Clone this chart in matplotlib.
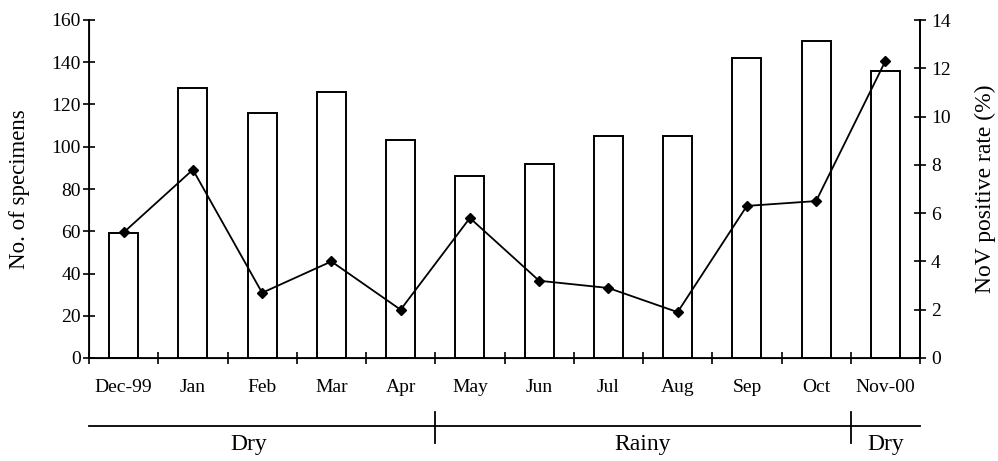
import matplotlib
matplotlib.use("Agg")
import matplotlib.pyplot as plt
from matplotlib.lines import Line2D

months = ["Dec-99", "Jan", "Feb", "Mar", "Apr", "May", "Jun", "Jul", "Aug", "Sep", "Oct", "Nov-00"]
specimens = [59, 128, 116, 126, 103, 86, 92, 105, 105, 142, 150, 136]
nov_rate = [5.2, 7.8, 2.7, 4.0, 2.0, 5.8, 3.2, 2.9, 1.9, 6.3, 6.5, 12.3]
seasons = ["Dry", "Rainy", "Dry"]
season_bounds = [(-0.5, 4.5), (4.5, 10.5), (10.5, 11.5)]
season_label_x = [1.8, 7.5, 11.0]

plt.rcParams['font.family'] = ['Liberation Serif', 'DejaVu Serif']

fig = plt.figure(figsize=(9.98, 4.61), dpi=100)
ax = fig.add_axes([89/998, 1-358/461, (920-89)/998, 338/461])
x = list(range(len(months)))
ax.bar(x, specimens, width=0.42, color='white', edgecolor='black', linewidth=1.4, zorder=1)
ax.set_xlim(-0.5, 11.5)
ax.set_ylim(0, 160)
ax.set_yticks(range(0, 161, 20))
ax.spines['top'].set_visible(False)
for s in ['left', 'bottom', 'right']:
    ax.spines[s].set_linewidth(1.3)
ax.tick_params(axis='y', direction='inout', length=8, width=1.2, labelsize=14, pad=2)
ax.set_xticks([i + 0.5 for i in range(-1, 12)])
ax.set_xticklabels([])
ax.tick_params(axis='x', direction='inout', length=8, width=1.2)
ax.set_xticks(x, minor=True)
ax.set_xticklabels(months, minor=True, fontsize=14)
ax.tick_params(axis='x', which='minor', length=0, pad=15)
ax.set_ylabel("No. of specimens", fontsize=16.5, labelpad=15)

ax2 = ax.twinx()
ax2.set_ylim(0, 14)
ax2.set_yticks(range(0, 15, 2))
ax2.spines['top'].set_visible(False)
ax2.spines['right'].set_linewidth(1.3)
ax2.tick_params(axis='y', direction='inout', length=8, width=1.2, labelsize=14, pad=4)
ax2.plot(x, nov_rate, color='black', linewidth=1.3, marker='D', markersize=5, zorder=3)
ax2.set_ylabel("NoV positive rate (%)", fontsize=17, labelpad=17)

ly = -0.201
ax.add_line(Line2D([-0.5, 11.5], [ly, ly], transform=ax.get_xaxis_transform(),
                   color='black', linewidth=1.3, clip_on=False))
for (a, b) in season_bounds[1:]:
    ax.add_line(Line2D([a, a], [-0.160, -0.251], transform=ax.get_xaxis_transform(),
                       color='black', linewidth=1.3, clip_on=False))
for lab, lx in zip(seasons, season_label_x):
    ax.text(lx, -0.257, lab, transform=ax.get_xaxis_transform(), ha='center', va='center', fontsize=17)

fig.savefig("out.png", dpi=100)
